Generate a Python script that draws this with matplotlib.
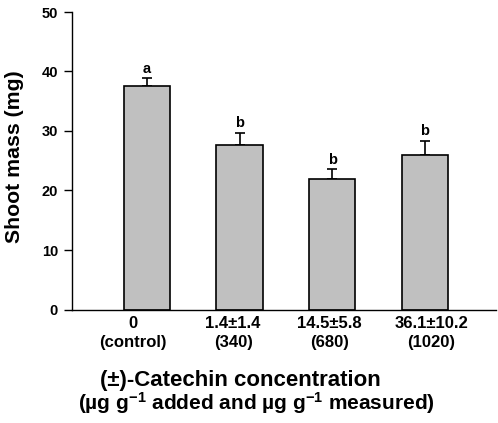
import numpy as np
import matplotlib.pyplot as plt

plt.rcParams['font.family'] = ['Liberation Sans', 'DejaVu Sans']
plt.rcParams['font.weight'] = 'bold'
plt.rcParams['mathtext.fontset'] = 'custom'
plt.rcParams['mathtext.rm'] = 'Liberation Sans:bold'
plt.rcParams['mathtext.default'] = 'rm'

labels = ['0\n(control)', '1.4±1.4\n(340)', '14.5±5.8\n(680)', '36.1±10.2\n(1020)']
mass = [37.5, 27.6, 21.9, 25.9]
err = [1.4, 2.1, 1.7, 2.5]
letters = ['a', 'b', 'b', 'b']

fig = plt.figure(figsize=(4.98, 4.23), dpi=100)
ax = fig.add_axes([72/498, 1 - 309.5/423, 424/498, 297.5/423])

x = np.arange(len(mass))
ax.bar(x, mass, width=0.5, color='#c0c0c0', edgecolor='black', linewidth=1.2, zorder=2)
ax.errorbar(x, mass, yerr=[np.zeros(len(err)), err], fmt='none', ecolor='black',
            elinewidth=1.2, capsize=3.5, capthick=1.2, zorder=1)
for xi, m, e, t in zip(x, mass, err, letters):
    ax.text(xi, m + e + 0.9, t, ha='center', va='baseline', fontsize=10.5, fontweight='bold')

ax.set_xlim(-0.81, 3.77)
ax.set_ylim(0, 50)
ax.set_yticks([0, 10, 20, 30, 40, 50])
# tick labels sit slightly off the bar centres in the original
ax.set_xticks(x + np.array([-0.15, -0.07, -0.03, 0.07]))
ax.set_xticklabels(labels, fontsize=12, fontweight='bold', linespacing=1.3)
ax.tick_params(axis='x', length=0, pad=5)
ax.tick_params(axis='y', direction='out', length=6, width=1, labelsize=10.5, pad=4)
ax.spines['top'].set_visible(False)
ax.spines['right'].set_visible(False)
ax.spines['left'].set_linewidth(1)
ax.spines['bottom'].set_linewidth(1)

ax.set_ylabel('Shoot mass (mg)', fontsize=15.3, fontweight='bold')
ax.yaxis.set_label_coords(-0.113, 0.514)

fig.text(240/498, 1 - 380/423, '(±)-Catechin concentration', ha='center', va='center',
         fontsize=16, fontweight='bold')
fig.text(256/498, 1 - 403/423, '(µg g$^{-1}$ added and µg g$^{-1}$ measured)', ha='center',
         va='center', fontsize=15, fontweight='bold')

fig.savefig('out.png', dpi=100)
